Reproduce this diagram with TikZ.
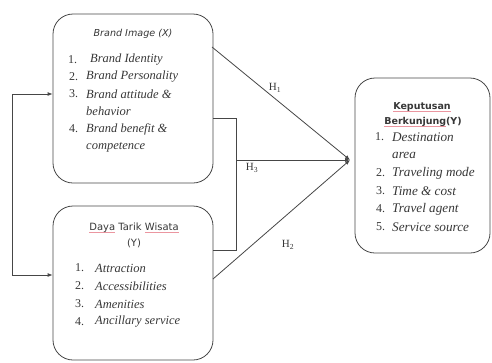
\documentclass[tikz,border=0pt]{standalone}
\usepackage{fontspec}
\setmainfont{Liberation Serif}
\newfontfamily\titlefont{DejaVu Sans}
\usetikzlibrary{arrows.meta}
\definecolor{ln}{RGB}{70,70,70}
\definecolor{tx}{RGB}{55,55,55}
\definecolor{sq}{RGB}{235,150,160}
\newcommand\sqw[1]{\setbox0\hbox{#1}\rlap{\textcolor{sq}{\rule[-2.5pt]{\wd0}{0.6pt}}}\box0\relax}
\begin{document}
\begin{tikzpicture}[x=1pt,y=-1pt,
  box/.style={draw=ln,line width=0.8pt,rounded corners=20pt,inner sep=0pt},
  conn/.style={draw=ln,line width=0.8pt},
  arr/.style={conn,-{Latex[length=5pt,width=4pt]}},
  ttl/.style={font=\titlefont\fontsize{10}{12}\selectfont,text=tx,inner sep=0pt},
  num/.style={font=\fontsize{12}{14}\selectfont,text=tx,anchor=west,inner sep=0pt},
  itm/.style={font=\fontsize{12.5}{15}\selectfont\itshape,text=tx,anchor=west,inner sep=0pt},
  itmb/.style={itm,font=\fontsize{13.2}{15}\selectfont\itshape},
  hl/.style={font=\fontsize{11}{13}\selectfont,text=tx,inner sep=0pt}]
\useasboundingbox (0,0) rectangle (492,362);
% boxes
\node[box,minimum width=160pt,minimum height=169pt] (bi) at (133,98.5) {};
\node[box,minimum width=160pt,minimum height=154pt] (dt) at (133,283) {};
\node[box,minimum width=135pt,minimum height=175pt] (kb) at (422.5,165.5) {};
% box 1 text
\node[ttl,font=\titlefont\itshape\fontsize{9.6}{11}\selectfont] (t1) at (133,34) {Brand Image (X)};
\node[num] (n11) at (68,60) {1.};
\node[itm] (i11) at (90,60) {Brand Identity};
\node[num] (n12) at (69,77) {2.};
\node[itm] (i12) at (86,77) {Brand Personality};
\node[num] (n13) at (69,94) {3.};
\node[itm] (i13) at (86,94) {Brand attitude \&};
\node[itm] (i13b) at (86,111) {behavior};
\node[num] (n14) at (69,129) {4.};
\node[itm] (i14) at (86,129) {Brand benefit \&};
\node[itm] (i14b) at (86,147) {competence};
% box 2 text
\node[ttl] (t2) at (134,228) {\sqw{Daya} Tarik \sqw{Wisata}};
\node[ttl] (t2b) at (134,243) {(Y)};
\node[num] (n21) at (75,268) {1.};
\node[itm] (i21) at (95,268) {Attraction};
\node[num] (n22) at (75,286) {2.};
\node[itm] (i22) at (95,286) {Accessibilities};
\node[num] (n23) at (75,304) {3.};
\node[itm] (i23) at (95,304) {Amenities};
\node[num] (n24) at (75,322) {4.};
\node[itm] (i24) at (95,322) {Ancillary service};
% box 3 text
\node[ttl,font=\titlefont\bfseries\fontsize{9.5}{12}\selectfont] (t3) at (422,107) {\sqw{Keputusan}};
\node[ttl,font=\titlefont\bfseries\fontsize{9.5}{12}\selectfont] (t3b) at (423,122) {\sqw{Berkunjung}(Y)};
\node[num] (n31) at (375,137) {1.};
\node[itmb] (i31) at (392,137) {Destination};
\node[itmb] (i31b) at (392,155) {area};
\node[num] (n32) at (376,173) {2.};
\node[itmb] (i32) at (392,173) {Traveling mode};
\node[num] (n33) at (376,191) {3.};
\node[itmb] (i33) at (392,191) {Time \& cost};
\node[num] (n34) at (376,209) {4.};
\node[itmb] (i34) at (392,209) {Travel agent};
\node[num] (n35) at (376,227) {5.};
\node[itmb] (i35) at (392,227) {Service source};
% connectors
\coordinate (kp) at (350,160);
\coordinate (fbT) at (12,94);
\coordinate (fbB) at (12,275);
\coordinate (h3a) at (236,118);
\coordinate (h3b) at (236,250);
\coordinate (h3m) at (236,160);
\coordinate (h1s) at (212,47);
\coordinate (h2s) at (213,279);
\draw[conn,{Latex[length=5pt,width=4pt]}-{Latex[length=5pt,width=4pt]}] (bi.west|-fbT) -- (fbT) -- (fbB) -- (dt.west|-fbB);
\draw[conn] (bi.east|-h3a) -- (h3a) -- (h3b) -- (dt.east|-h3b);
\draw[arr] (h3m) -- (kp);
\draw[arr] (h1s) -- (kp);
\draw[arr] (h2s) -- (kp);
% labels
\node[hl] (H1) at (275,88) {H\textsubscript{1}};
\node[hl] (H3) at (252,168) {H\textsubscript{3}};
\node[hl] (H2) at (288,245) {H\textsubscript{2}};
\end{tikzpicture}
\end{document}
